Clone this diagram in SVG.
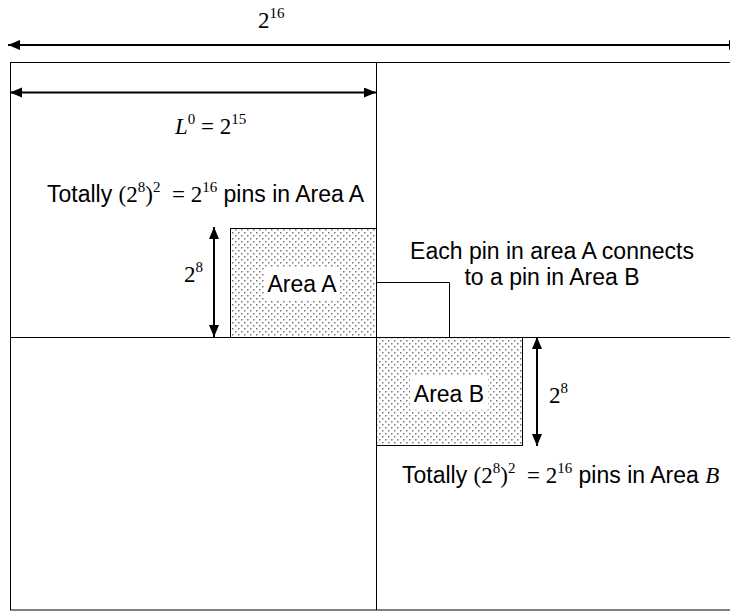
<svg xmlns="http://www.w3.org/2000/svg" width="730" height="612" viewBox="0 0 730 612">
<style>
.ln{stroke:#000;stroke-width:1;fill:none}
.ar{stroke:#000;stroke-width:2;fill:none;marker-start:url(#ah);marker-end:url(#ah)}
.sans{font-family:"Liberation Sans",Arial,sans-serif;font-size:23px;fill:#000}
.ser{font-family:"Liberation Serif","Times New Roman",serif;font-size:23px;fill:#000}
.sup{font-size:15px}
.it{font-style:italic}
</style>
<defs>
<marker id="ah" markerUnits="userSpaceOnUse" markerWidth="13" markerHeight="11" refX="12" refY="5" orient="auto-start-reverse" viewBox="0 0 13 11">
<path d="M0,0 L12,5 L0,10 z" fill="#000"/>
</marker>
<pattern id="dots" patternUnits="userSpaceOnUse" width="6" height="6">
<rect width="6" height="6" fill="#fff"/>
<rect x="1" y="1" width="1.5" height="1.5" fill="#777"/>
<rect x="4" y="4" width="1.5" height="1.5" fill="#777"/>
</pattern>
</defs>
<rect width="730" height="612" fill="#fff"/>

<g id="frame">
<rect class="ln" x="10.5" y="62.5" width="740" height="547.5"/>
<line class="ln" x1="376.5" y1="62" x2="376.5" y2="610"/>
<line class="ln" x1="10" y1="337.5" x2="730" y2="337.5"/>
</g>

<g id="areaA">
<rect x="230.5" y="228.5" width="146" height="109" fill="url(#dots)" stroke="#000" stroke-width="1"/>
<rect x="264" y="267" width="76" height="33" fill="#fff"/>
<text class="sans" x="302" y="292" text-anchor="middle">Area A</text>
</g>

<g id="areaB">
<rect x="376.5" y="337.5" width="146" height="108" fill="url(#dots)" stroke="#000" stroke-width="1"/>
<rect x="410" y="375" width="78" height="35" fill="#fff"/>
<text class="sans" x="449" y="402" text-anchor="middle">Area B</text>
</g>

<g id="connectors">
<line class="ar" x1="8" y1="45" x2="741" y2="45"/>
<line class="ar" x1="10" y1="92.5" x2="376" y2="92.5"/>
<line class="ar" x1="214" y1="227" x2="214" y2="337"/>
<line class="ar" x1="537" y1="337" x2="537" y2="446"/>
<polyline class="ln" points="376,282.5 449.5,282.5 449.5,337"/>
</g>

<g id="labels">
<text class="ser" x="258" y="28">2<tspan class="sup" dy="-10">16</tspan></text>
<text class="ser" x="175" y="134"><tspan class="it">L</tspan><tspan class="sup" dy="-10">0</tspan><tspan dy="10"> = 2</tspan><tspan class="sup" dy="-10">15</tspan></text>
<text class="sans" x="47" y="202">Totally <tspan class="ser">(2</tspan><tspan class="ser sup" dy="-10">8</tspan><tspan class="ser" dy="10">)</tspan><tspan class="ser sup" dy="-10">2</tspan><tspan class="ser" dy="10" xml:space="preserve">  = 2</tspan><tspan class="ser sup" dy="-10">16</tspan><tspan dy="10"> pins in Area A</tspan></text>
<text class="ser" x="184" y="282">2<tspan class="sup" dy="-10">8</tspan></text>
<text class="sans" x="552" y="259" text-anchor="middle">Each pin in area A connects</text>
<text class="sans" x="552" y="285" text-anchor="middle">to a pin in Area B</text>
<text class="ser" x="549" y="403">2<tspan class="sup" dy="-10">8</tspan></text>
<text class="sans" x="402" y="483">Totally <tspan class="ser">(2</tspan><tspan class="ser sup" dy="-10">8</tspan><tspan class="ser" dy="10">)</tspan><tspan class="ser sup" dy="-10">2</tspan><tspan class="ser" dy="10" xml:space="preserve">  = 2</tspan><tspan class="ser sup" dy="-10">16</tspan><tspan dy="10"> pins in Area </tspan><tspan class="ser it">B</tspan></text>
</g>
</svg>
